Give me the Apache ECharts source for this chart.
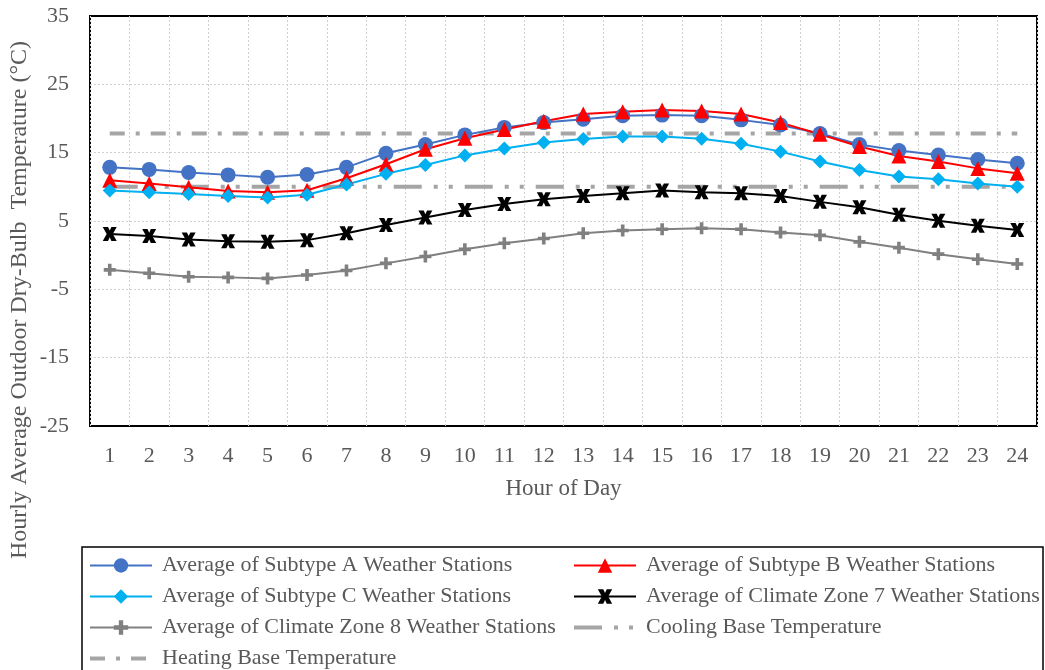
<!DOCTYPE html>
<html>
<head>
<meta charset="utf-8">
<script src="https://cdn.jsdelivr.net/npm/echarts@6/dist/echarts.min.js"></script>
<style>
  html, body { margin: 0; padding: 0; background: #ffffff; }
  #chart { width: 1045px; height: 670px; }
</style>
</head>
<body>
<div id="chart"></div>
<script>
// Hour-of-day categories
const hours = ['1','2','3','4','5','6','7','8','9','10','11','12',
               '13','14','15','16','17','18','19','20','21','22','23','24'];

// Hourly average outdoor dry-bulb temperature (°C)
const subtypeA = [12.85, 12.55, 12.1, 11.75, 11.4, 11.8, 12.85, 14.9, 16.2, 17.6, 18.7, 19.4,
                  19.9, 20.4, 20.5, 20.4, 19.8, 19.05, 17.8, 16.2, 15.3, 14.65, 14.0, 13.45];
const subtypeB = [10.95, 10.5, 9.95, 9.4, 9.2, 9.5, 11.25, 13.3, 15.5, 17.1, 18.4, 19.6,
                  20.65, 21.0, 21.25, 21.1, 20.65, 19.4, 17.7, 15.9, 14.5, 13.7, 12.7, 12.0];
const subtypeC = [9.45, 9.2, 8.95, 8.65, 8.45, 8.85, 10.35, 11.9, 13.2, 14.6, 15.6, 16.5,
                  17.0, 17.35, 17.35, 17.05, 16.3, 15.15, 13.7, 12.45, 11.5, 11.1, 10.5, 10.0];
const zone7    = [3.1, 2.8, 2.3, 2.05, 1.95, 2.2, 3.2, 4.4, 5.5, 6.6, 7.5, 8.2,
                  8.65, 9.05, 9.45, 9.2, 9.05, 8.65, 7.8, 7.0, 5.9, 5.05, 4.3, 3.7];
const zone8    = [-2.15, -2.65, -3.15, -3.25, -3.4, -2.9, -2.25, -1.2, -0.2, 0.85, 1.75, 2.45,
                  3.2, 3.6, 3.8, 3.95, 3.8, 3.3, 2.9, 1.95, 1.1, 0.15, -0.6, -1.3];
const coolingBase = [10, 10, 10, 10, 10, 10, 10, 10, 10, 10, 10, 10,
                     10, 10, 10, 10, 10, 10, 10, 10, 10, 10, 10, 10];
const heatingBase = [17.8, 17.8, 17.8, 17.8, 17.8, 17.8, 17.8, 17.8, 17.8, 17.8, 17.8, 17.8,
                     17.8, 17.8, 17.8, 17.8, 17.8, 17.8, 17.8, 17.8, 17.8, 17.8, 17.8, 17.8];

// Value-axis labels and interior grid lines
const yLabels = [-25, -15, -5, 5, 15, 25, 35];
const yGridLines = [-15, -5, 5, 15, 25];

const SERIF = '"Liberation Serif", "Times New Roman", serif';
const TEXT_GREY = '#595959';
const GRID_GREY = '#D0D0D0';

// Marker shapes
const X_MARK = 'path://M0,0 L3.8,0 L5,2.6 L6.2,0 L10,0 L7.2,5 L10,10 L6.2,10 L5,7.4 L3.8,10 L0,10 L2.8,5 Z';
const PLUS_MARK = 'path://M3.5,0 H6.5 V3.5 H10 V6.5 H6.5 V10 H3.5 V6.5 H0 V3.5 H3.5 Z';

const names = {
  A: 'Average of Subtype A Weather Stations',
  B: 'Average of Subtype B Weather Stations',
  C: 'Average of Subtype C Weather Stations',
  Z7: 'Average of Climate Zone 7 Weather Stations',
  Z8: 'Average of Climate Zone 8 Weather Stations',
  COOL: 'Cooling Base Temperature',
  HEAT: 'Heating Base Temperature'
};

function dataSeries(name, data, color, symbol, size) {
  return {
    name, type: 'line', data,
    symbol, symbolSize: size,
    color,
    itemStyle: { color, borderWidth: 0 },
    lineStyle: { color, width: 2 },
    z: 3
  };
}

function baseSeries(name, data, dash) {
  return {
    name, type: 'line', data,
    symbol: 'none',
    color: '#A5A5A5',
    lineStyle: { color: '#A5A5A5', width: 4, type: dash, cap: 'butt' },
    z: 2
  };
}

const legendText = {
  fontFamily: SERIF, fontSize: 22, color: TEXT_GREY,
  lineHeight: 31, padding: [0, 0, 0, 5]
};
// base-temperature entries show only their thick dashed line
const hiddenMarker = { color: 'rgba(0,0,0,0)', borderWidth: 0, opacity: 0 };
const thickLine = { width: 4 };

const chart = echarts.init(document.getElementById('chart'), null, { renderer: 'canvas' });

const zone8Series = dataSeries(names.Z8, zone8, '#808080', PLUS_MARK, 12);
// dotted horizontal grid lines at the labelled temperatures
zone8Series.markLine = {
  silent: true,
  z: 1,
  symbol: 'none',
  animation: false,
  label: { show: false },
  emphasis: { disabled: true },
  lineStyle: { color: GRID_GREY, width: 1, type: [2, 2] },
  data: yGridLines.map(v => ({ yAxis: v }))
};

chart.setOption({
  animation: false,
  backgroundColor: '#ffffff',
  grid: {
    left: 90, right: 8, top: 16, bottom: 244,
    containLabel: false,
    outerBoundsMode: 'none',
    show: true,
    backgroundColor: '#ffffff',
    borderColor: '#000000',
    borderWidth: 2
  },
  xAxis: {
    type: 'category',
    data: hours,
    boundaryGap: true,
    axisLine: { show: false },
    axisTick: { show: false },
    axisLabel: { margin: 19, fontFamily: SERIF, fontSize: 22, color: TEXT_GREY },
    splitLine: { show: true, lineStyle: { color: GRID_GREY, width: 1, type: [2, 2] } },
    name: 'Hour of Day',
    nameLocation: 'middle',
    nameGap: 51,
    nameTextStyle: { fontFamily: SERIF, fontSize: 23, color: TEXT_GREY }
  },
  yAxis: {
    type: 'value',
    min: -25,
    max: 35,
    axisLine: { show: false },
    axisTick: { show: false },
    axisLabel: { customValues: yLabels, margin: 21, fontFamily: SERIF, fontSize: 22, color: TEXT_GREY },
    splitLine: { show: false }
  },
  legend: [
    {
      orient: 'vertical', left: 88, top: 550, height: 200, padding: 0, itemGap: 0,
      itemWidth: 62, itemHeight: 18,
      selectedMode: false,
      data: [names.A, names.C, names.Z8,
             { name: names.HEAT, itemStyle: hiddenMarker, lineStyle: thickLine }],
      textStyle: legendText
    },
    {
      orient: 'vertical', left: 572, top: 550, height: 200, padding: 0, itemGap: 0,
      itemWidth: 62, itemHeight: 18,
      selectedMode: false,
      data: [names.B, names.Z7,
             { name: names.COOL, itemStyle: hiddenMarker, lineStyle: thickLine }],
      textStyle: legendText
    }
  ],
  graphic: [
    {
      type: 'rect', z: -1, silent: true,
      shape: { x: 82, y: 547, width: 961, height: 140 },
      style: { fill: 'none', stroke: '#000000', lineWidth: 1.5 }
    },
    {
      type: 'text', x: 20, y: 300, rotation: Math.PI / 2, silent: true,
      style: {
        text: 'Hourly Average Outdoor Dry-Bulb  Temperature (°C)',
        font: '24px ' + SERIF,
        fill: TEXT_GREY,
        align: 'center', verticalAlign: 'middle'
      }
    }
  ],
  series: [
    dataSeries(names.A, subtypeA, '#4472C4', 'circle', 15),
    dataSeries(names.B, subtypeB, '#FF0000', 'triangle', 15),
    dataSeries(names.C, subtypeC, '#00B0F0', 'diamond', 14),
    dataSeries(names.Z7, zone7, '#000000', X_MARK, 14),
    zone8Series,
    baseSeries(names.COOL, coolingBase, [28, 12, 4, 11, 4, 12]),
    baseSeries(names.HEAT, heatingBase, [15, 11, 4, 11])
  ]
});
</script>
</body>
</html>
